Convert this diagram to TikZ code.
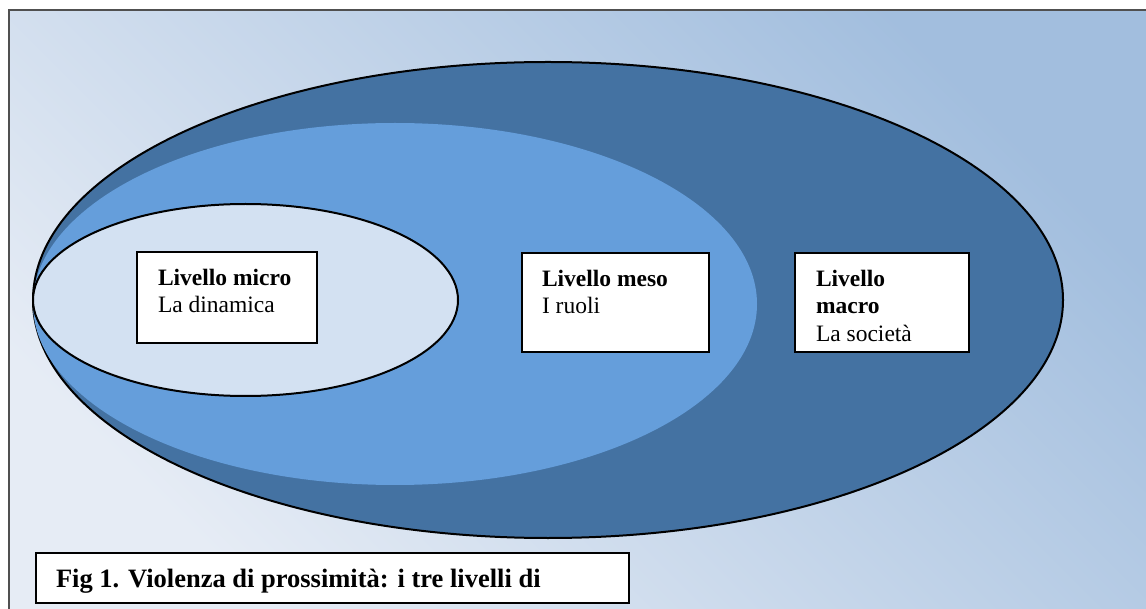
\documentclass[tikz,border=0pt]{standalone}
\usepackage{fontspec}
\setmainfont{Liberation Serif}
\definecolor{bglight}{RGB}{230,236,245}
\definecolor{bgdark}{RGB}{162,190,222}
\definecolor{macrofill}{RGB}{68,114,162}
\definecolor{mesofill}{RGB}{101,158,219}
\definecolor{microfill}{RGB}{211,225,242}
\definecolor{framegray}{RGB}{80,80,80}
\newcommand{\lvltext}[5]{\begin{minipage}[c][#2][t]{#1}\vspace*{#3}\raggedright\leftskip=#4\noindent #5\end{minipage}}
\begin{document}
\begin{tikzpicture}[x=1pt,y=-1pt,
  lvlbox/.style={draw=black, line width=2pt, fill=white, anchor=north west, inner sep=0pt, font=\fontsize{23.5}{27.5}\selectfont},
  capbox/.style={draw=black, line width=2pt, fill=white, anchor=north west, inner sep=0pt, font=\fontsize{26.5}{30}\selectfont\bfseries},
  ring/.style={draw=black, line width=2pt},
]
\useasboundingbox (0,0) rectangle (1146,609);
% background panel
\shade[top color=bgdark, bottom color=bglight, shading angle=-45] (9,10) rectangle (1146,609);
\draw[framegray, line width=2pt] (9,614) -- (9,10) -- (1150,10);
% macro level (outer ellipse)
\filldraw[ring, fill=macrofill] (548,300) ellipse [x radius=515pt, y radius=238pt];
% meso level (middle ellipse, no outline)
\fill[mesofill] (395,304) ellipse [x radius=362pt, y radius=181pt];
% micro level (inner ellipse)
\filldraw[ring, fill=microfill] (245.5,300) ellipse [x radius=212.5pt, y radius=96pt];
% level boxes
\node[lvlbox] (micro) at (136,251) {\lvltext{180pt}{91pt}{17pt}{21pt}{\textbf{Livello micro}\\La dinamica}};
\node[lvlbox] (meso) at (521,252) {\lvltext{187pt}{99pt}{17pt}{20pt}{\textbf{Livello meso}\\I ruoli}};
\node[lvlbox] (macro) at (794,252) {\lvltext{174pt}{99pt}{17pt}{21pt}{\textbf{Livello}\\\textbf{macro}\\La società}};
% caption
\node[capbox] (caption) at (35,552) {\lvltext{593pt}{50pt}{16.5pt}{20pt}{Fig 1. Violenza di prossimità: i tre livelli di}};
\end{tikzpicture}
\end{document}
